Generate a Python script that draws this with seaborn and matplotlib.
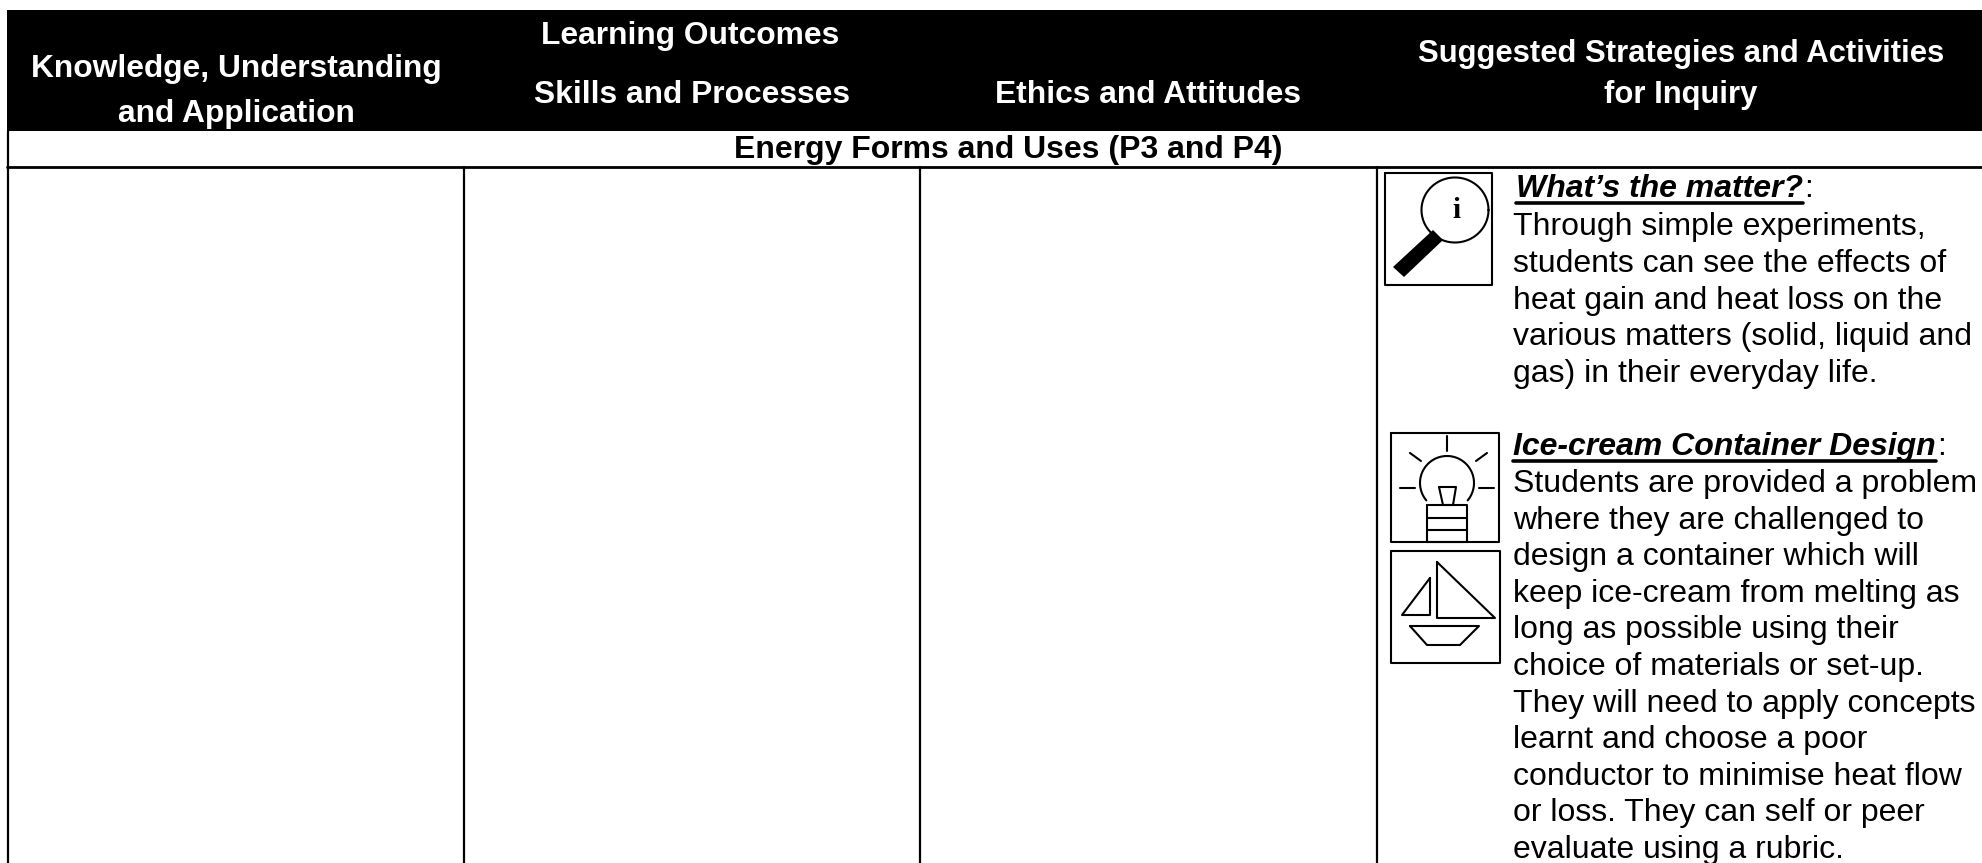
import numpy as np
import matplotlib
matplotlib.use("Agg")
import matplotlib.pyplot as plt
import seaborn as sns

sns.set_theme(style="white")
plt.rcParams["font.family"] = ["Liberation Sans", "DejaVu Sans"]

header_left = ["Knowledge, Understanding", "and Application"]
header_outcomes = "Learning Outcomes"
header_skills = "Skills and Processes"
header_ethics = "Ethics and Attitudes"
header_right = ["Suggested Strategies and Activities", "for Inquiry"]
section_title = "Energy Forms and Uses (P3 and P4)"

title_one = "What\u2019s the matter?"
body_one = [
    "Through simple experiments,",
    "students can see the effects of",
    "heat gain and heat loss on the",
    "various matters (solid, liquid and",
    "gas) in their everyday life.",
]
title_two = "Ice-cream Container Design"
body_two = [
    "Students are provided a problem",
    "where they are challenged to",
    "design a container which will",
    "keep ice-cream from melting as",
    "long as possible using their",
    "choice of materials or set-up.",
    "They will need to apply concepts",
    "learnt and choose a poor",
    "conductor to minimise heat flow",
    "or loss. They can self or peer",
    "evaluate using a rubric.",
]

fig, ax = plt.subplots(figsize=(19.83, 8.63), dpi=100)
fig.subplots_adjust(0, 0, 1, 1)
ax.set_xlim(0, 1983)
ax.set_ylim(863, 0)
ax.axis("off")


def line(xs, ys, lw=1.5):
    sns.lineplot(x=xs, y=ys, sort=False, estimator=None, color="black",
                 linewidth=lw, ax=ax, legend=False)


def box(x0, y0, x1, y1, lw=1.5):
    line([x0, x1, x1, x0, x0], [y0, y0, y1, y1, y0], lw)


# header band and table rules
ax.fill_between([7, 1983], 10, 131, color="black", lw=0)
line([7, 1983], [167.5, 167.5], 2)
for xpos in [7.5, 464, 920, 1377]:
    line([xpos, xpos], [131 if xpos == 7.5 else 167.5, 863], 1.6)

hkw = dict(color="white", fontweight="bold", fontsize=22.9, ha="center", va="baseline")
ax.text(236, 77, header_left[0], **hkw)
ax.text(236, 122, header_left[1], **hkw)
ax.text(690, 44, header_outcomes, **hkw)
ax.text(692, 103, header_skills, **hkw)
ax.text(1148, 103, header_ethics, **hkw)
ax.text(1681, 62, header_right[0], color="white", fontweight="bold", fontsize=22.3,
        ha="center", va="baseline")
ax.text(1681, 103, header_right[1], color="white", fontweight="bold", fontsize=22.3,
        ha="center", va="baseline")
ax.text(1008, 158, section_title, color="black", fontweight="bold", fontsize=23.05,
        ha="center", va="baseline")


def block(title, x, base, lines, first, step):
    t = ax.text(x, base, title, fontsize=23, fontweight="bold", fontstyle="italic",
                color="black", va="baseline")
    fig.canvas.draw()
    ext = t.get_window_extent().transformed(ax.transData.inverted())
    ax.text(ext.x1 + 1, base, ":", fontsize=23, color="black", va="baseline")
    line([x, ext.x1], [base + 6, base + 6], 2.6)
    for i, s in enumerate(lines):
        ax.text(1513, first + i * step, s, fontsize=23.05, color="black", va="baseline")


block(title_one, 1516, 197, body_one, 235, 36.8)
block(title_two, 1513, 455, body_two, 492, 36.6)

# magnifying glass icon
box(1385, 173, 1492, 285)
th = np.linspace(0, 2 * np.pi, 120)
line(1455 + 33.5 * np.cos(th), 210 + 32.5 * np.sin(th), 1.5)
ax.fill([1433, 1393, 1404, 1443], [230, 267, 277, 240], color="black", lw=0)
ax.text(1456, 218, "i", fontsize=21, fontweight="bold", family="Liberation Serif",
        ha="center", va="baseline", color="black")

# light bulb icon
box(1391, 433, 1499, 542)
th = np.linspace(np.radians(-40), np.radians(220), 80)
line(1447 + 27 * np.cos(th), 483 - 27 * np.sin(th), 1.5)
line([1427, 1467, 1467, 1427, 1427], [505, 505, 542, 542, 505])
line([1427, 1467], [518, 518])
line([1427, 1467], [530, 530])
line([1447, 1447], [436, 451])
line([1410, 1421], [453, 461])
line([1476, 1487], [461, 453])
line([1400, 1415], [488, 488])
line([1479, 1494], [488, 488])
line([1439, 1456, 1453, 1443, 1439], [487, 487, 505, 505, 487])

# sailboat icon
box(1391, 551, 1500, 663)
line([1437, 1437, 1495, 1437], [562, 618, 618, 562])
line([1430, 1430, 1402, 1430], [578, 615, 615, 578])
line([1410, 1479, 1460, 1427, 1410], [626, 626, 645, 645, 626])

plt.savefig("out.png", dpi=100)
